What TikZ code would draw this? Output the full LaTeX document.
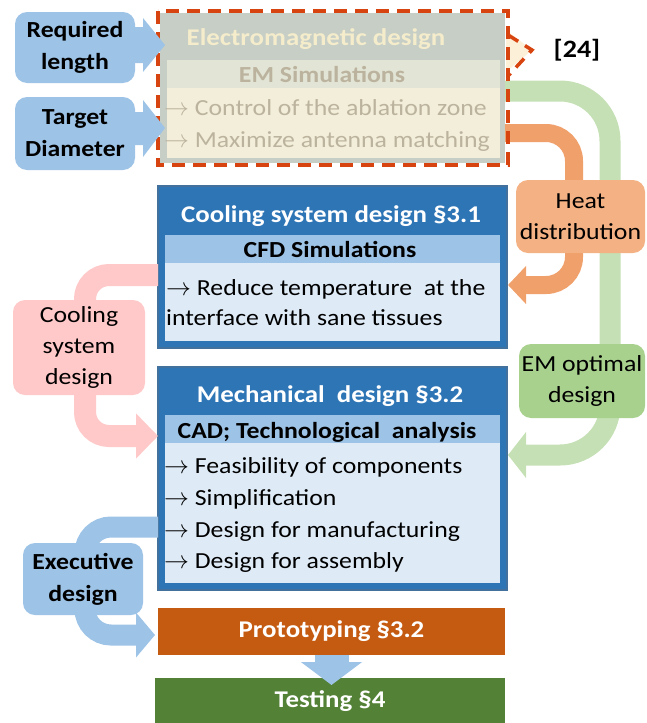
\documentclass[tikz,border=0pt]{standalone}
\usepackage{fontspec}
\setmainfont{Carlito}[FakeStretch=1.12]
\usetikzlibrary{calc,arrows.meta}

\definecolor{frameblue}{HTML}{2E75B6}
\definecolor{frameedge}{HTML}{41719C}
\definecolor{bandblue}{HTML}{9DC3E6}
\definecolor{paleblue}{HTML}{DEEBF7}
\definecolor{callblue}{HTML}{9DC3E6}
\definecolor{heatorange}{HTML}{F4B183}
\definecolor{heatflow}{HTML}{F0A06A}
\definecolor{optgreen}{HTML}{A9D18E}
\definecolor{optflow}{HTML}{C5E0B4}
\definecolor{coolpink}{HTML}{FFC9C9}
\definecolor{protoorange}{HTML}{C55A11}
\definecolor{testgreen}{HTML}{538135}
\definecolor{emframe}{HTML}{C6CEC6}
\definecolor{emband}{HTML}{E2E5D5}
\definecolor{emfill}{HTML}{F3EED9}
\definecolor{emtitle}{HTML}{F4ECCB}
\definecolor{emtext}{HTML}{BCB39E}
\definecolor{dashred}{HTML}{D84410}
\definecolor{pointerfill}{HTML}{FDF0D8}

% bullet arrow in front of each item
\newcommand\flowarr{$\rightarrow$\ }

\tikzset{
  titlefont/.style={font=\fontsize{24}{30}\selectfont\bfseries},
  subfont/.style={font=\fontsize{23}{30}\selectfont\bfseries},
  bodyfont/.style={font=\fontsize{23}{30}\selectfont},
  labelbold/.style={font=\fontsize{23}{32}\selectfont\bfseries, align=center},
  labelreg/.style={font=\fontsize{23}{31}\selectfont, align=center},
  block/.style={fill=frameblue, draw=frameedge, line width=1.5, anchor=north west,
    inner sep=0, outer sep=0},
  bar/.style={inner sep=0, outer sep=0, text=white, titlefont},
  callout/.style={rounded corners=12, inner sep=0, outer sep=0},
  flowline/.style={line width=#1, line cap=butt},
}

\begin{document}
\begin{tikzpicture}[x=1pt,y=-1pt]
\useasboundingbox (0,0) rectangle (647,723);

% ---------- flows running behind the blocks ----------
% EM optimal design: from the EM stage down to the mechanical block
\draw[flowline=21, optflow, rounded corners=50, -{Triangle[width=45pt,length=18pt]}]
  (505,91) -- (610,91) -- (610,455) -- (508,455);
% heat distribution: from the EM stage to the cooling block
\draw[flowline=18, heatflow, rounded corners=28, -{Triangle[width=37pt,length=18pt]}]
  (505,133) -- (574,133) -- (574,285) -- (508,285);

% ---------- electromagnetic stage (faded) ----------
\node[fill=emframe, minimum width=345, minimum height=150, anchor=north west,
  inner sep=0, outer sep=0] (em) at (160,13) {};
\fill[emband] (167,60) rectangle (500,88);
\fill[emfill] (167,88) rectangle (500,158);
\node[titlefont, text=emtitle, anchor=base] (emt) at (316,45) {Electromagnetic design};
\node[subfont, text=emtext, anchor=base] (ems) at (322,82) {EM Simulations};
\node[bodyfont, text=emtext, anchor=base west, inner sep=0] (emc1) at (164,115)
  {\flowarr Control of the ablation zone};
\node[bodyfont, text=emtext, anchor=base west, inner sep=0] (emc2) at (164,147)
  {\flowarr Maximize antenna matching};
% pointer to the reference
\fill[pointerfill] (506,30) -- (532,50) -- (506,72) -- cycle;
\draw[dashred, line width=3.5, dash pattern=on 12pt off 8pt, line join=miter]
  (508,35) -- (532,50) -- (508,76);
\draw[dashred, line width=3.5, dash pattern=on 13pt off 8pt] (158,11) rectangle (508,165);
\node[font=\fontsize{25}{30}\selectfont\bfseries, anchor=base] (ref) at (577,57) {[24]};

% ---------- left-hand flows ----------
\node[block, minimum width=349, minimum height=162] (cool) at (158,186) {};
\node[block, minimum width=349, minimum height=223] (mech) at (158,367) {};
\node[bar, fill=protoorange, minimum width=347, minimum height=47] (proto) at (331.5,631.5)
  {Prototyping §3.2};
\node[bar, fill=testgreen, minimum width=350, minimum height=46] (test) at (330,701)
  {Testing §4};

\draw[flowline=22, coolpink, rounded corners=24, -{Triangle[width=44pt,length=22pt]}]
  ($(cool.west)+(0,8)$) -- (85,275) -- (85,436) -- (158,436);
\draw[flowline=21, callblue, rounded corners=26, -{Triangle[width=44pt,length=19pt]}]
  ($(mech.west)+(0,48.5)$) -- (85,527) -- (85,635) -- (155,635);

% ---------- cooling system block ----------
\fill[bandblue] (165,235) rectangle (500,263);
\fill[paleblue] (165,263) rectangle (500,341);
\node[titlefont, text=white, anchor=base] (coolt) at (331,222) {Cooling system design §3.1};
\node[subfont, anchor=base] (cfd) at (330,257) {CFD Simulations};
\node[bodyfont, anchor=base west, inner sep=0] (coolc1) at (166,295)
  {\flowarr Reduce temperature\ \ at the};
\node[bodyfont, anchor=base west, inner sep=0] (coolc2) at (166,325)
  {interface with sane tissues};

% ---------- mechanical block ----------
\fill[bandblue] (165,415) rectangle (500,443);
\fill[paleblue] (165,443) rectangle (500,583);
\node[titlefont, text=white, anchor=base] (mecht) at (330,402) {Mechanical\ \ design §3.2};
\node[subfont, anchor=base] (cad) at (327,438) {CAD; Technological\ \ analysis};
\node[bodyfont, anchor=base west, inner sep=0] (m1) at (164,473) {\flowarr Feasibility of components};
\node[bodyfont, anchor=base west, inner sep=0] (m2) at (164,505) {\flowarr Simplification};
\node[bodyfont, anchor=base west, inner sep=0] (m3) at (164,537) {\flowarr Design for manufacturing};
\node[bodyfont, anchor=base west, inner sep=0] (m4) at (164,568) {\flowarr Design for assembly};

% ---------- prototyping to testing ----------
\draw[flowline=34, callblue, -{Triangle[width=60pt,length=23pt]}]
  (proto.south) -- ($(proto.south)+(0,30)$);

% ---------- side labels ----------
\node[callout, fill=heatorange, minimum width=129, minimum height=73, labelreg]
  (heat) at (580.5,216.5) {Heat\\distribution};
\node[callout, fill=optgreen, minimum width=126, minimum height=74, labelreg]
  (opt) at (582,381) {EM optimal\\design};
\node[callout, fill=coolpink, minimum width=132, minimum height=95, labelreg]
  (coolin) at (79,347.5) {Cooling\\system\\design};
\node[callout, fill=callblue, minimum width=120, minimum height=72, labelbold]
  (exec) at (83,579) {Executive\\design};

% input callouts pointing into the EM stage
\fill[callblue] (128,27) -- (143,27) -- (143,18) -- (165,45) -- (143,72) -- (143,63)
  -- (128,63) -- cycle;
\node[callout, fill=callblue, minimum width=120, minimum height=71, labelbold]
  (req) at (75,47.5) {Required\\length};
\fill[callblue] (128,112) -- (143,112) -- (143,100) -- (165,128) -- (143,157) -- (143,145)
  -- (128,145) -- cycle;
\node[callout, fill=callblue, minimum width=120, minimum height=73, labelbold]
  (diam) at (75,133.5) {Target\\Diameter};

\end{tikzpicture}
\end{document}
